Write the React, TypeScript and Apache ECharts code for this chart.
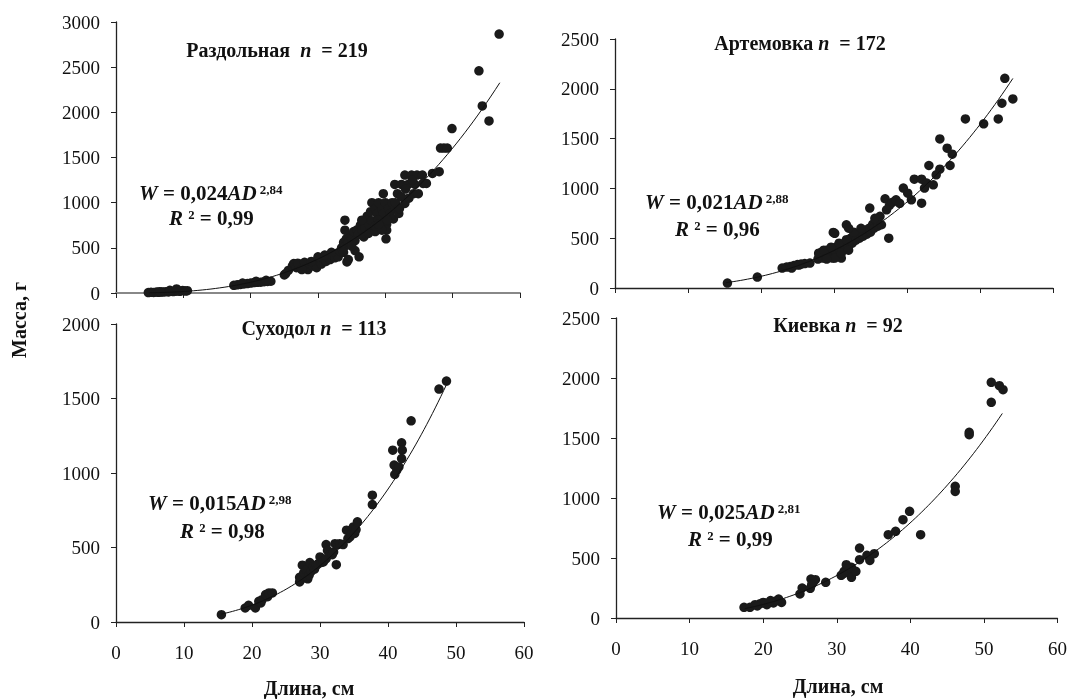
import React, { useEffect, useRef } from "react";
import * as echarts from "echarts";

// ---- data ----
const panelNames = ["Раздольная", "Артемовка", "Суходол", "Киевка"];
const panelN = ["219", "172", "113", "92"];
const yMaxes = [3000, 2500, 2000, 2500];
const xTickMax = 60;
const xTickStep = 10;
const yTickStep = 500;
const fitA = [0.024, 0.021, 0.015, 0.025];
const fitB = [2.84, 2.88, 2.98, 2.81];
const fitAText = ["0,024", "0,021", "0,015", "0,025"];
const fitBText = ["2,84", "2,88", "2,98", "2,81"];
const r2Text = ["0,99", "0,96", "0,98", "0,99"];
const fitStart = [5, 15.2, 15.5, 17.5];
const fitEnd = [57, 54.5, 48.6, 52.5];

const razdolnaya: number[][] = [
  [4.8, 5], [5.2, 8], [5.6, 6], [6.0, 10], [6.3, 8], [6.7, 12], [7.0, 10], [7.4, 14], [7.8, 12], [8.1, 18],
  [8.5, 16], [8.9, 20], [9.2, 24], [9.5, 18], [9.9, 28], [10.3, 22], [10.6, 26], [8.0, 30], [6.5, 15], [9.0, 45],
  [17.5, 85], [18.0, 90], [18.5, 95], [19.0, 100], [19.5, 105], [20.0, 110], [20.5, 115], [21.0, 118], [21.5, 120],
  [22.0, 125], [22.5, 128], [23.0, 130], [18.8, 110], [20.8, 130], [22.3, 140],
  [25.0, 200], [25.2, 215], [25.6, 250], [26.2, 300], [26.4, 326],
  [26.5, 320], [26.8, 280], [27.2, 300], [27.5, 270], [27.8, 310], [28.2, 290], [28.5, 260], [28.8, 320], [29.2, 300],
  [29.5, 340], [29.8, 280], [30.2, 360], [30.5, 320], [30.8, 380], [31.2, 350], [31.5, 400], [31.8, 370], [32.2, 420],
  [32.5, 390], [32.8, 440], [33.0, 400], [27.0, 330], [28.0, 340], [29.0, 350], [30.0, 400], [31.0, 420], [32.0, 450],
  [33.3, 460], [27.6, 260],
  [33.5, 500], [33.8, 560], [34.0, 520], [34.2, 600], [34.5, 560], [34.8, 640], [35.0, 600], [35.3, 680], [35.5, 580],
  [35.8, 700], [36.0, 650], [36.3, 750], [36.5, 700], [36.8, 780], [37.0, 720], [37.3, 850], [37.5, 760], [37.8, 900],
  [38.0, 800], [38.3, 700], [34.0, 806], [34.0, 695], [36.5, 806], [34.3, 344], [36.1, 400], [34.5, 370], [35.5, 470],
  [36.8, 620], [37.5, 660], [38.5, 680], [33.8, 450], [35.0, 520],
  [38.0, 1000], [38.5, 935], [38.8, 880], [39.0, 1000], [39.3, 820], [39.5, 935], [39.7, 880], [40.0, 1000], [40.2, 760],
  [40.5, 935], [40.7, 880], [41.0, 1000], [41.2, 820], [41.5, 935], [42.0, 880], [39.7, 1100], [40.2, 695], [39.5, 695],
  [40.1, 600], [38.9, 806], [40.3, 806], [41.5, 1000], [42.1, 935], [38.5, 740], [39.0, 760], [41.8, 1100],
  [41.4, 1202], [42.4, 1202],
  [42.4, 1065], [42.9, 991], [42.9, 1305], [43.4, 1202], [43.9, 1305], [44.4, 1202], [44.7, 1305], [45.5, 1305],
  [44.2, 1100], [44.9, 1100], [45.6, 1213], [46.1, 1213], [43.0, 1150], [44.0, 1250], [43.5, 1050],
  [47.0, 1324], [48.0, 1343], [48.2, 1605], [48.7, 1605], [49.2, 1605], [49.9, 1820], [53.9, 2460], [54.4, 2071],
  [55.4, 1905], [56.9, 2867],
];

const artemovka: number[][] = [
  [15.4, 50], [19.5, 110], [22.9, 200],
  [23.5, 210], [24.0, 215], [24.5, 225], [25.0, 235], [25.5, 240], [26.0, 245], [26.7, 250], [24.2, 200], [25.2, 230],
  [27.8, 290], [28.0, 330], [28.3, 360], [28.5, 300], [28.8, 340], [29.0, 380], [29.3, 320], [29.5, 360], [29.8, 300],
  [30.0, 400], [30.3, 350], [30.5, 420], [30.8, 380], [31.0, 300], [31.3, 440], [31.5, 400], [31.8, 460], [32.0, 420],
  [32.3, 500], [32.5, 450], [32.8, 520], [33.0, 480], [33.3, 540], [33.5, 500], [33.8, 560], [34.0, 520], [34.3, 580],
  [34.5, 540], [34.8, 600], [35.0, 560], [35.3, 640], [35.5, 600], [35.8, 680], [36.0, 620], [36.3, 720],
  [27.9, 350], [28.6, 380], [29.6, 410], [30.7, 450], [31.7, 485], [32.7, 560], [33.7, 600], [30.1, 300], [29.0, 290],
  [31.0, 350], [32.0, 380], [29.9, 558], [31.7, 635], [30.1, 549], [32.0, 600],
  [34.9, 802], [37.0, 896], [37.5, 500], [35.6, 700], [36.5, 635],
  [37.2, 785], [37.6, 830], [38.0, 860], [38.5, 885], [39.0, 850],
  [39.5, 1003], [40.1, 952], [40.6, 885], [41.0, 1093], [42.0, 1093], [42.0, 852], [42.7, 1053], [43.6, 1036],
  [42.4, 1003], [43.0, 1230], [44.0, 1136], [44.5, 1193], [44.5, 1497], [45.5, 1404], [46.2, 1343], [45.9, 1230],
  [48.0, 1698], [50.5, 1648], [52.5, 1698], [53.0, 1855], [53.4, 2105], [54.5, 1898],
];

const sukhodol: number[][] = [
  [15.5, 49], [19.0, 94], [19.5, 112], [20.5, 94], [21.0, 139], [21.3, 128], [21.5, 150], [22.0, 184], [22.3, 170],
  [22.5, 195], [23.0, 195], [27.0, 269], [27.0, 300], [27.2, 284], [27.4, 302], [27.4, 381], [27.6, 330], [28.0, 350],
  [28.2, 290], [28.4, 314], [28.5, 399], [28.7, 340], [29.0, 370], [29.2, 355], [29.5, 381], [29.7, 390], [30.0, 437],
  [30.2, 400], [30.5, 403], [30.7, 420], [30.9, 425], [30.9, 520], [31.1, 480], [31.4, 452], [31.8, 452], [32.0, 470],
  [32.4, 385], [32.2, 526], [32.6, 520], [32.9, 526], [33.4, 520], [33.9, 616], [34.1, 560], [34.4, 571], [34.6, 590],
  [34.9, 638], [35.1, 594], [35.3, 620], [35.5, 672], [37.7, 851], [37.7, 788], [40.7, 1153], [40.9, 1053],
  [41.0, 990], [41.3, 1020], [41.6, 1041], [42.0, 1203], [42.0, 1097], [42.1, 1153], [43.4, 1350], [47.5, 1563],
  [48.6, 1617],
];

const kievka: number[][] = [
  [17.4, 89], [18.2, 89], [18.9, 111], [19.6, 119], [20.2, 125], [20.9, 133], [21.6, 139], [22.1, 158], [22.5, 130],
  [21.4, 125], [20.5, 111], [20.0, 130], [19.2, 100], [21.0, 145],
  [25.0, 200], [25.3, 250], [26.4, 247], [26.5, 325], [26.8, 297], [27.1, 319], [26.6, 280], [28.5, 297],
  [30.6, 356], [31.0, 389], [31.3, 444], [31.7, 375], [32.0, 422], [32.0, 339], [32.6, 389], [31.5, 410], [30.9, 370],
  [33.1, 583], [33.1, 486], [34.1, 522], [34.5, 480], [35.1, 536],
  [37.0, 694], [38.0, 722], [39.0, 819], [39.9, 889], [41.4, 694],
  [46.1, 1097], [46.1, 1055], [48.0, 1547], [48.0, 1528],
  [51.0, 1797], [51.0, 1964], [52.1, 1936], [52.6, 1903],
];

const panelData = [razdolnaya, artemovka, sukhodol, kievka];

// ---- layout ----
const grids = [
  { left: 116, top: 22, width: 404, height: 271 },
  { left: 615, top: 39, width: 438, height: 249 },
  { left: 116, top: 324, width: 408, height: 298 },
  { left: 616, top: 318, width: 442, height: 300 },
];
const titlePos = [[277, 50], [800, 43], [314, 328], [838, 325]];
const eqPos = [[139, 193], [645, 202], [148, 503], [657, 512]];
const r2Pos = [[169, 218], [675, 229], [180, 531], [688, 539]];
const xLabelPos = [[309, 688], [838, 686]];

const FONT = "Liberation Serif";

function fitCurve(i: number): number[][] {
  const pts: number[][] = [];
  const steps = 80;
  for (let k = 0; k <= steps; k++) {
    const L = fitStart[i] + ((fitEnd[i] - fitStart[i]) * k) / steps;
    pts.push([L, fitA[i] * Math.pow(L, fitB[i])]);
  }
  return pts;
}

export default function App() {
  const ref = useRef<HTMLDivElement>(null);

  useEffect(() => {
    if (!ref.current) return;
    const chart = echarts.init(ref.current, undefined, { renderer: "svg" });

    const xAxis = grids.map((_, i) => ({
      type: "value",
      gridIndex: i,
      min: 0,
      max: xTickMax,
      interval: xTickStep,
      axisLine: { show: true, lineStyle: { color: i === 0 ? "#888" : "#222", width: i === 0 ? 2 : 1.3 } },
      axisTick: { show: true, length: 5, lineStyle: { color: "#222", width: 1 } },
      axisLabel: {
        show: i >= 2,
        fontFamily: FONT,
        fontSize: 19,
        color: "#111",
        margin: 21,
        formatter: (v: number) => String(v),
      },
      splitLine: { show: false },
    }));

    const yAxis = grids.map((_, i) => ({
      type: "value",
      gridIndex: i,
      min: 0,
      max: yMaxes[i],
      interval: yTickStep,
      axisLine: { show: true, lineStyle: { color: "#222", width: 1.3 } },
      axisTick: { show: true, length: 5, lineStyle: { color: "#222", width: 1 } },
      axisLabel: {
        fontFamily: FONT,
        fontSize: 19,
        color: "#111",
        margin: 16,
        formatter: (v: number) => String(v),
      },
      splitLine: { show: false },
    }));

    const series: any[] = [];
    panelData.forEach((d, i) => {
      series.push({
        type: "scatter",
        xAxisIndex: i,
        yAxisIndex: i,
        data: d,
        symbol: "circle",
        symbolSize: 9.5,
        itemStyle: { color: "#1a1a1a", opacity: 1 },
        z: 2,
      });
      series.push({
        type: "line",
        xAxisIndex: i,
        yAxisIndex: i,
        data: fitCurve(i),
        showSymbol: false,
        symbol: "none",
        lineStyle: { color: "#111", width: 1 },
        z: 3,
      });
    });

    const graphic: any[] = [];
    panelNames.forEach((name, i) => {
      const gap = i === 0 ? "  " : " ";
      graphic.push({
        type: "text",
        x: titlePos[i][0],
        y: titlePos[i][1],
        style: {
          text: `{tb|${name}${gap}}{ti|n}{tb|  = ${panelN[i]}}`,
          fontFamily: FONT,
          fontSize: 20,
          fontWeight: "bold",
          fill: "#111",
          rich: {
            tb: { fontFamily: FONT, fontWeight: "bold", fontSize: 20 },
            ti: { fontFamily: FONT, fontWeight: "bold", fontStyle: "italic", fontSize: 20 },
          },
          align: "center",
          verticalAlign: "middle",
        },
      });
      graphic.push({
        type: "text",
        x: eqPos[i][0],
        y: eqPos[i][1],
        style: {
          text: `{ei|W}{eb| = ${fitAText[i]}}{ei|AD}{sup| ${fitBText[i]}}`,
          fontFamily: FONT,
          fontSize: 21,
          fontWeight: "bold",
          fill: "#111",
          rich: {
            eb: { fontFamily: FONT, fontWeight: "bold", fontSize: 21 },
            ei: { fontFamily: FONT, fontWeight: "bold", fontStyle: "italic", fontSize: 21 },
            sup: { fontFamily: FONT, fontWeight: "bold", fontSize: 13, verticalAlign: "top" },
          },
          align: "left",
          verticalAlign: "middle",
        },
      });
      graphic.push({
        type: "text",
        x: r2Pos[i][0],
        y: r2Pos[i][1],
        style: {
          text: `{ei|R}{eb| ² = ${r2Text[i]}}`,
          fontFamily: FONT,
          fontSize: 21,
          fontWeight: "bold",
          fill: "#111",
          rich: {
            eb: { fontFamily: FONT, fontWeight: "bold", fontSize: 21 },
            ei: { fontFamily: FONT, fontWeight: "bold", fontStyle: "italic", fontSize: 21 },
          },
          align: "left",
          verticalAlign: "middle",
        },
      });
    });
    xLabelPos.forEach((p) => {
      graphic.push({
        type: "text",
        x: p[0],
        y: p[1],
        style: {
          text: "Длина, см",
          fontFamily: FONT,
          fontWeight: "bold",
          fontSize: 20,
          fill: "#111",
          align: "center",
          verticalAlign: "middle",
        },
      });
    });
    graphic.push({
      type: "text",
      x: 19,
      y: 320,
      rotation: Math.PI / 2,
      style: {
        text: "Масса, г",
        fontFamily: FONT,
        fontWeight: "bold",
        fontSize: 20,
        fill: "#111",
        align: "center",
        verticalAlign: "middle",
      },
    });

    chart.setOption({
      animation: false,
      textStyle: { fontFamily: FONT },
      grid: grids,
      xAxis,
      yAxis,
      series,
      graphic,
    });

    return () => chart.dispose();
  }, []);

  return (
    <div
      ref={ref}
      style={{ position: "fixed", left: 0, top: 0, width: 1070, height: 699, fontFamily: FONT }}
    />
  );
}
